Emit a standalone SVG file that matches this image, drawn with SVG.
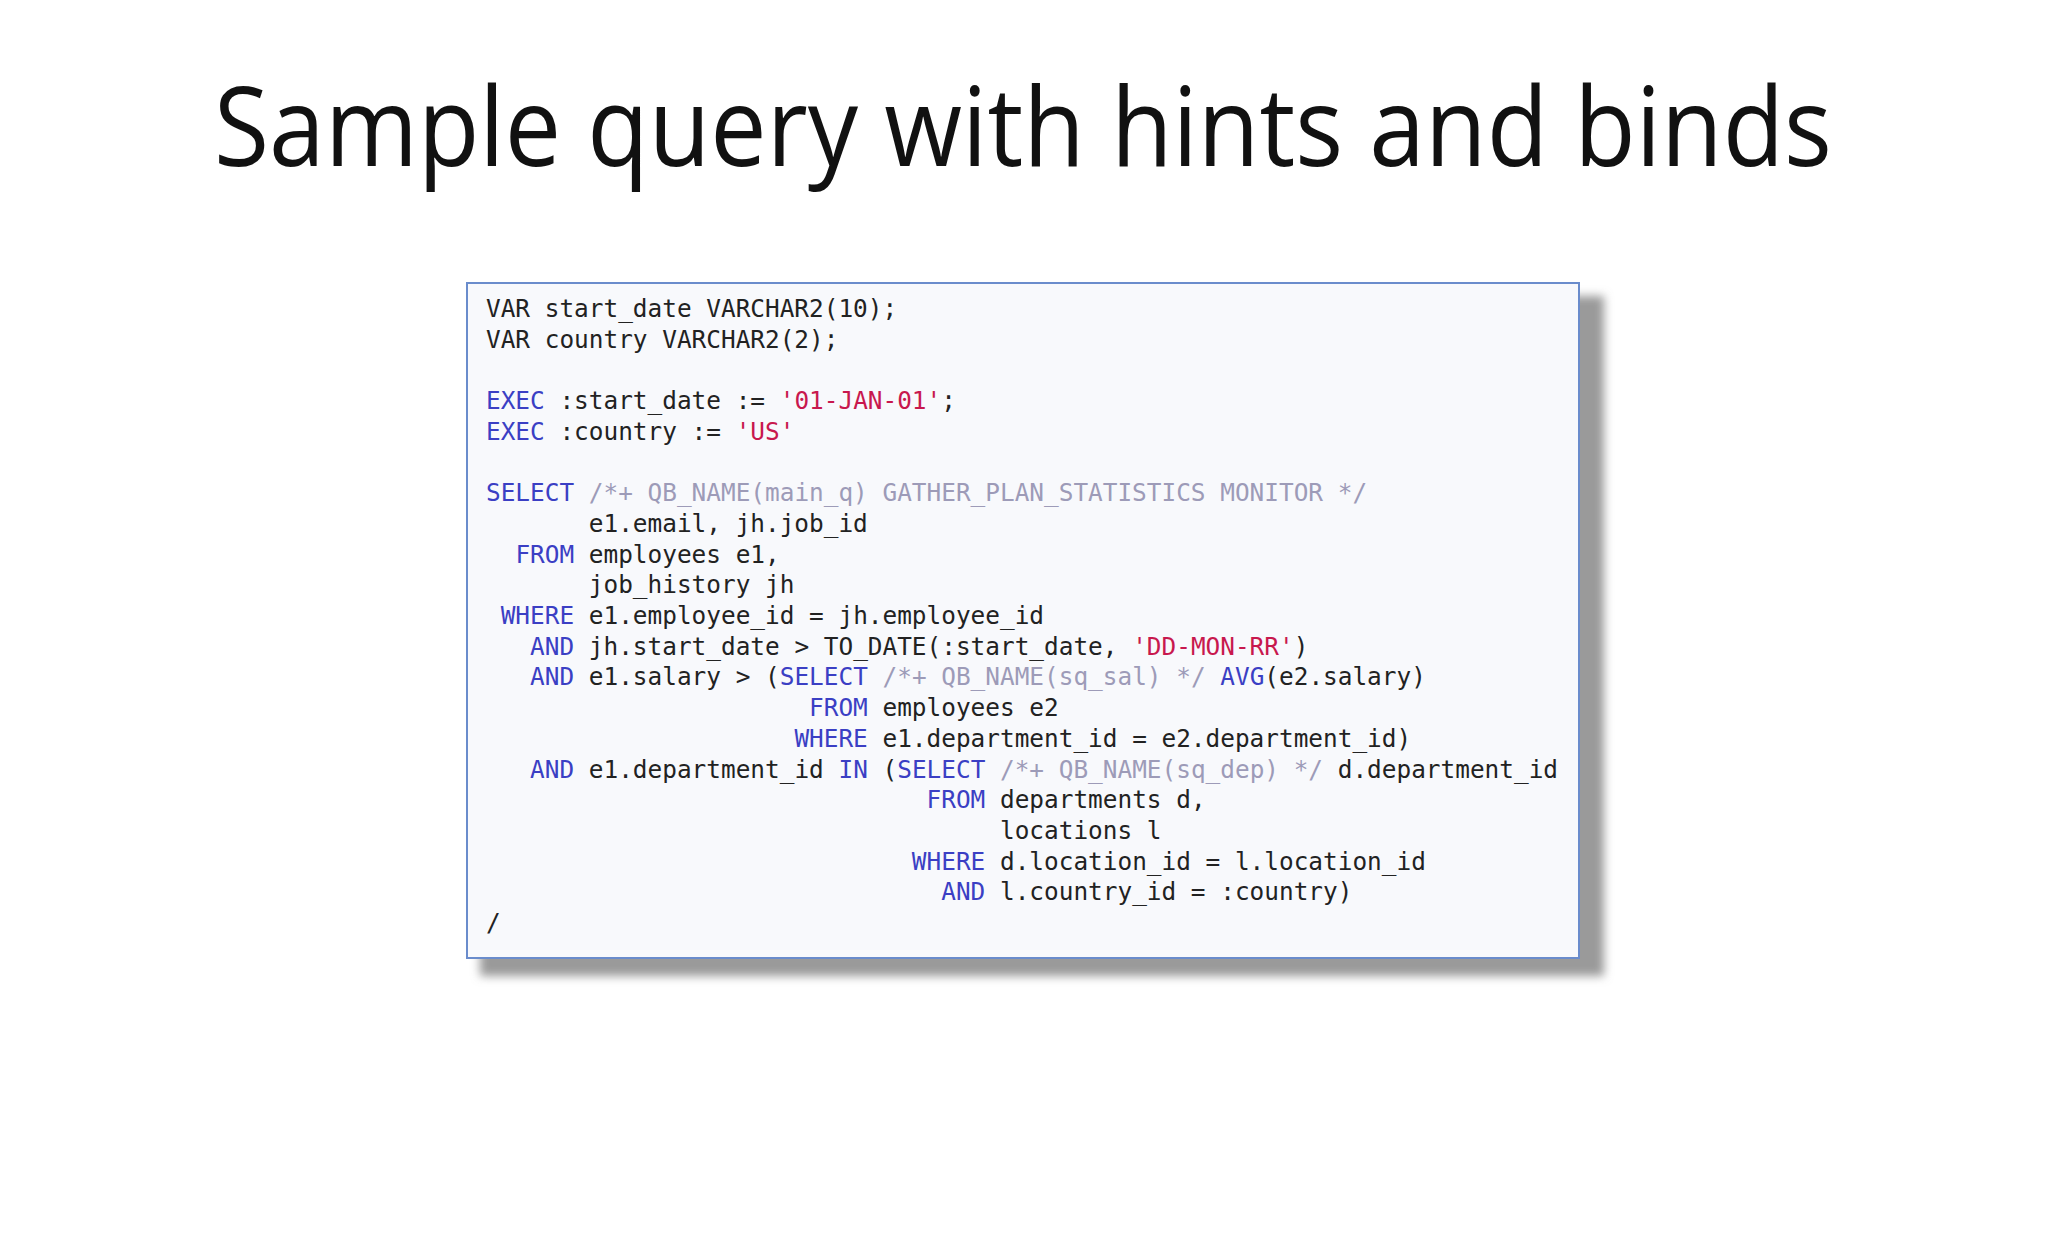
<svg xmlns="http://www.w3.org/2000/svg" width="2048" height="1243" viewBox="0 0 2048 1243">
<style>
.c{font-family:"DejaVu Sans Mono","Liberation Mono",monospace;font-size:24.4px;fill:#222;white-space:pre}
.k{fill:#3b3fc4}.m{fill:#9d9bb8}.s{fill:#c8184e}
</style>
<defs><filter id="b" x="-5%" y="-5%" width="110%" height="110%"><feGaussianBlur stdDeviation="5"/></filter></defs>
<rect width="2048" height="1243" fill="#fff"/>
<text x="1023" y="166" text-anchor="middle" font-family="'Open Sans','Noto Sans',sans-serif" font-size="110" fill="#111" textLength="1618" lengthAdjust="spacingAndGlyphs">Sample query with hints and binds</text>
<g id="code">
<rect x="480" y="296" width="1124" height="680" fill="#9a9a9a" filter="url(#b)"/>
<rect x="467" y="283" width="1112" height="675" fill="#f8f9fc" stroke="#6a8ccc" stroke-width="2"/>
<text class="c" xml:space="preserve">
<tspan x="486" y="317">VAR start_date VARCHAR2(10);</tspan>
<tspan x="486" y="347.7">VAR country VARCHAR2(2);</tspan>
<tspan x="486" y="409.1"><tspan class="k">EXEC</tspan> :start_date := <tspan class="s">'01-JAN-01'</tspan>;</tspan>
<tspan x="486" y="439.8"><tspan class="k">EXEC</tspan> :country := <tspan class="s">'US'</tspan></tspan>
<tspan x="486" y="501.2"><tspan class="k">SELECT</tspan> <tspan class="m">/*+ QB_NAME(main_q) GATHER_PLAN_STATISTICS MONITOR */</tspan></tspan>
<tspan x="486" y="531.9">       e1.email, jh.job_id</tspan>
<tspan x="486" y="562.6">  <tspan class="k">FROM</tspan> employees e1,</tspan>
<tspan x="486" y="593.3">       job_history jh</tspan>
<tspan x="486" y="624"> <tspan class="k">WHERE</tspan> e1.employee_id = jh.employee_id</tspan>
<tspan x="486" y="654.7">   <tspan class="k">AND</tspan> jh.start_date &gt; TO_DATE(:start_date, <tspan class="s">'DD-MON-RR'</tspan>)</tspan>
<tspan x="486" y="685.4">   <tspan class="k">AND</tspan> e1.salary &gt; (<tspan class="k">SELECT</tspan> <tspan class="m">/*+ QB_NAME(sq_sal) */</tspan> <tspan class="k">AVG</tspan>(e2.salary)</tspan>
<tspan x="486" y="716.1">                      <tspan class="k">FROM</tspan> employees e2</tspan>
<tspan x="486" y="746.8">                     <tspan class="k">WHERE</tspan> e1.department_id = e2.department_id)</tspan>
<tspan x="486" y="777.5">   <tspan class="k">AND</tspan> e1.department_id <tspan class="k">IN</tspan> (<tspan class="k">SELECT</tspan> <tspan class="m">/*+ QB_NAME(sq_dep) */</tspan> d.department_id</tspan>
<tspan x="486" y="808.2">                              <tspan class="k">FROM</tspan> departments d,</tspan>
<tspan x="486" y="838.9">                                   locations l</tspan>
<tspan x="486" y="869.6">                             <tspan class="k">WHERE</tspan> d.location_id = l.location_id</tspan>
<tspan x="486" y="900.3">                               <tspan class="k">AND</tspan> l.country_id = :country)</tspan>
<tspan x="486" y="931">/</tspan>
</text>
</g>
</svg>
